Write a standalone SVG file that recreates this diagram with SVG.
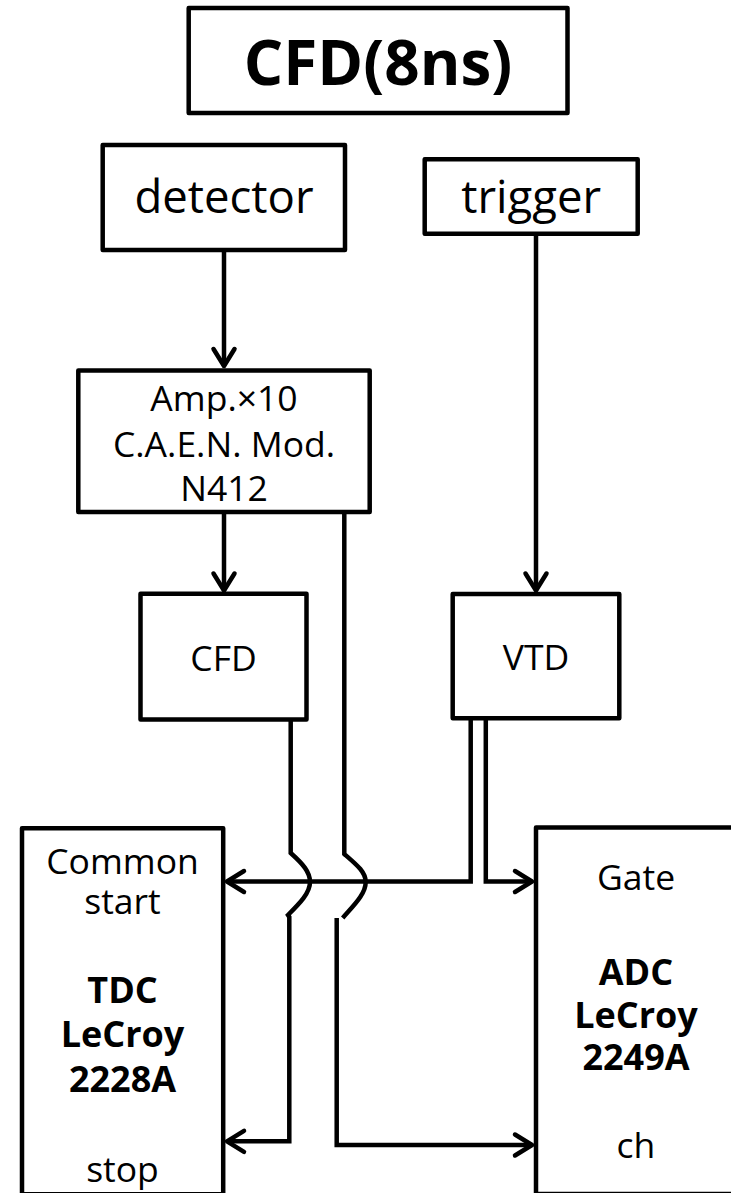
<svg xmlns="http://www.w3.org/2000/svg" width="731" height="1193" viewBox="0 0 731 1193">
<style>
.box{fill:#fff;stroke:#000;stroke-width:4.5;stroke-linejoin:round}
.ln{fill:none;stroke:#000;stroke-width:4.5;stroke-linejoin:miter}
text{font-family:"Open Sans","Noto Sans","Liberation Sans",sans-serif;fill:#000;text-anchor:middle}
.r{font-size:35.5px}
.b{font-size:36px;font-weight:bold}
.m{font-size:45.5px}
.t{font-size:62px;font-weight:bold}
</style>
<defs>
<marker id="arr" markerWidth="30" markerHeight="30" viewBox="-25 -15 30 30" refX="0" refY="0" orient="auto" markerUnits="userSpaceOnUse">
<path d="M-17,-10.5 L0,0 L-17,10.5" fill="none" stroke="#000" stroke-width="4.5" stroke-linecap="round" stroke-linejoin="round"/>
</marker>
</defs>
<g id="title">
<rect class="box" x="188.7" y="8" width="378.8" height="105"/>
<text class="t" x="378" y="85">CFD(8ns)</text>
</g>
<g id="detector">
<rect class="box" x="102.7" y="145" width="242.3" height="105"/>
<text class="m" x="224" y="213">detector</text>
</g>
<g id="trigger">
<rect class="box" x="424.7" y="159.3" width="213" height="74.5"/>
<text class="m" x="531.2" y="213">trigger</text>
</g>
<g id="amp">
<rect class="box" x="78.3" y="370.5" width="291.4" height="141.5"/>
<text class="r" x="224" y="410.5">Amp.×10</text>
<text class="r" x="224" y="456.5">C.A.E.N. Mod.</text>
<text class="r" x="224" y="500.5">N412</text>
</g>
<g id="cfd">
<rect class="box" x="140.5" y="593.8" width="166" height="125.7"/>
<text class="r" x="223.5" y="670.5">CFD</text>
</g>
<g id="vtd">
<rect class="box" x="452.7" y="594" width="166.6" height="124.3"/>
<text class="r" x="536" y="670">VTD</text>
</g>
<g id="tdc">
<rect class="box" x="22" y="828.3" width="201.2" height="366"/>
<text class="r" x="122.5" y="874">Common</text>
<text class="r" x="122.5" y="914">start</text>
<text class="b" x="122.5" y="1003">TDC</text>
<text class="b" x="122.5" y="1047">LeCroy</text>
<text class="b" x="122.5" y="1091.5">2228A</text>
<text class="r" x="122.5" y="1181.5">stop</text>
</g>
<g id="adc">
<rect class="box" x="536" y="827.5" width="200" height="366.5"/>
<text class="r" x="636" y="890">Gate</text>
<text class="b" x="636" y="985">ADC</text>
<text class="b" x="636" y="1027.5">LeCroy</text>
<text class="b" x="636" y="1070">2249A</text>
<text class="r" x="636" y="1158">ch</text>
</g>
<g id="connectors">
<path class="ln" d="M224,250 V366" marker-end="url(#arr)"/>
<path class="ln" d="M224,512 V590.5" marker-end="url(#arr)"/>
<path class="ln" d="M536,233.8 V590.5" marker-end="url(#arr)"/>
<path class="ln" d="M470.7,718.3 V881.5 H227" marker-end="url(#arr)"/>
<path class="ln" d="M485.8,718.3 V881.5 H532" marker-end="url(#arr)"/>
<path class="ln" d="M290.7,719.5 V853 C303,864 310,872 310,882 C310,893 300,903 288,915 L289.3,917 V1141.3 H227" marker-end="url(#arr)"/>
<path class="ln" d="M344.3,512 V854 C357,865 365.7,872 365.7,882 C365.7,894 354,905 342.7,918"/>
<path class="ln" d="M336.7,918 V1145 H532" marker-end="url(#arr)"/>
</g>
</svg>
